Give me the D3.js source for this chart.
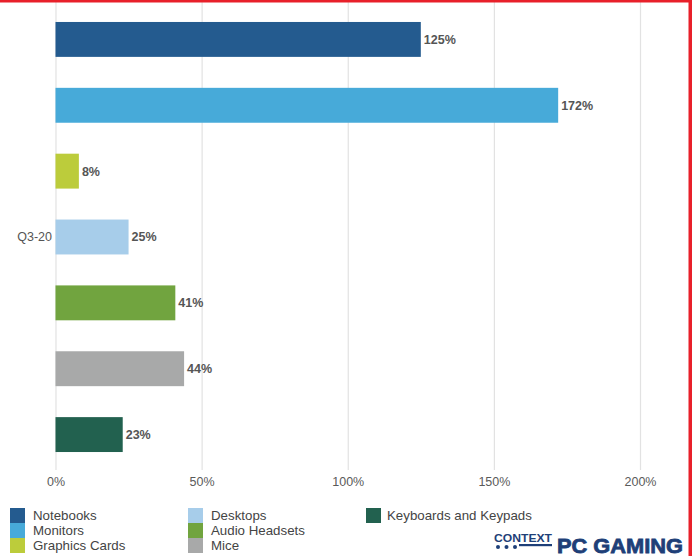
<!DOCTYPE html>
<html>
<head>
<meta charset="utf-8">
<script src="https://cdn.jsdelivr.net/npm/d3@7"></script>
<style>
  body { margin: 0; background: #fff; }
  svg { display: block; font-family: "Liberation Sans", Arial, sans-serif; }
</style>
</head>
<body>
<div id="chart"></div>
<script>
// data
var categories = [ "Notebooks", "Monitors", "Graphics Cards", "Desktops", "Audio Headsets", "Mice", "Keyboards and Keypads" ];
var growth = [ 125, 172, 8, 25, 41, 44, 23 ];
var colors = [ "#245b8f", "#47aad9", "#bccc3b", "#a7cdea", "#71a43f", "#a8a9a9", "#22614f" ];
var xTicks = [ 0, 50, 100, 150, 200 ];
var periodLabel = "Q3-20";
// legend is laid out in three columns
var legendColumns = [
	[ "Notebooks", "Monitors", "Graphics Cards" ],
	[ "Desktops", "Audio Headsets", "Mice" ],
	[ "Keyboards and Keypads" ]
];

var width = 692, height = 556;

var svg = d3.select( "#chart" ).append( "svg" )
	.attr( "width", width )
	.attr( "height", height );

var xScale = d3.scaleLinear()
	.domain( [ 0, 200 ] )
	.range( [ 55.5, 640 ] );

var yScale = d3.scaleBand()
	.domain( categories )
	.range( [ 6.5, 467.5 ] )
	.paddingInner( 0.47 )
	.paddingOuter( 0.235 );

// vertical grid
svg.append( "g" )
	.attr( "transform", "translate(0, 470)" )
	.call( d3.axisBottom( xScale )
		.tickValues( xTicks )
		.tickSize( -468 )
		.tickFormat( "" ) )
	.call( g => g.select( ".domain" ).remove() )
	.call( g => g.selectAll( "line" ).attr( "stroke", "#e2e2e2" ).attr( "stroke-width", 1.2 ) );

// x axis labels
svg.append( "g" )
	.attr( "transform", "translate(0, 474)" )
	.call( d3.axisBottom( xScale )
		.tickValues( xTicks )
		.tickSize( 0 )
		.tickFormat( d => d + "%" ) )
	.call( g => g.select( ".domain" ).remove() )
	.call( g => g.selectAll( "text" )
		.attr( "font-size", "12.5px" )
		.attr( "font-family", "Liberation Sans, Arial, sans-serif" )
		.attr( "fill", "#5a5a5a" ) );

// bars
svg.selectAll( ".bar" )
	.data( categories )
	.enter()
	.append( "rect" )
	.attr( "class", "bar" )
	.attr( "x", xScale( 0 ) )
	.attr( "y", d => yScale( d ) )
	.attr( "width", ( d, i ) => xScale( growth[ i ] ) - xScale( 0 ) )
	.attr( "height", yScale.bandwidth() )
	.attr( "fill", ( d, i ) => colors[ i ] );

// value labels
svg.selectAll( ".val" )
	.data( categories )
	.enter()
	.append( "text" )
	.attr( "class", "val" )
	.attr( "x", ( d, i ) => xScale( growth[ i ] ) + 3 )
	.attr( "y", d => yScale( d ) + yScale.bandwidth() / 2 )
	.attr( "dy", "0.35em" )
	.attr( "font-size", "12.5px" )
	.attr( "font-weight", "bold" )
	.attr( "fill", "#555" )
	.text( ( d, i ) => growth[ i ] + "%" );

// period label on the left
svg.append( "text" )
	.attr( "x", 52 )
	.attr( "y", yScale( "Desktops" ) + yScale.bandwidth() / 2 )
	.attr( "dy", "0.35em" )
	.attr( "text-anchor", "end" )
	.attr( "font-size", "12.5px" )
	.attr( "fill", "#555" )
	.text( periodLabel );

// legend
var colX = [ 10, 188, 366 ];
legendColumns.forEach( function ( col, c ) {
	col.forEach( function ( name, r ) {
		var i = categories.indexOf( name );
		svg.append( "rect" )
			.attr( "x", colX[ c ] )
			.attr( "y", 508 + r * 15 )
			.attr( "width", 15 )
			.attr( "height", 15 )
			.attr( "fill", colors[ i ] );
		svg.append( "text" )
			.attr( "x", colX[ c ] + ( c === 2 ? 21 : 23 ) )
			.attr( "y", 515.5 + r * 15 )
			.attr( "dy", "0.35em" )
			.attr( "font-size", "13.3px" )
			.attr( "fill", "#444" )
			.text( name );
	} );
} );

// CONTEXT PC GAMING mark
var logo = svg.append( "g" ).attr( "transform", "translate(494, 533)" );
logo.append( "text" )
	.attr( "x", 0 )
	.attr( "y", 9 )
	.attr( "font-size", "10.5px" )
	.attr( "font-weight", "bold" )
	.attr( "fill", "#1e3f78" )
	.attr( "textLength", 58 )
	.attr( "lengthAdjust", "spacingAndGlyphs" )
	.text( "CONTEXT" );
logo.append( "rect" )
	.attr( "x", 25 ).attr( "y", 11 )
	.attr( "width", 33 ).attr( "height", 2.2 )
	.attr( "fill", "#1e3f78" );
[ 4, 12.5, 21 ].forEach( function ( cx ) {
	logo.append( "circle" )
		.attr( "cx", cx ).attr( "cy", 14 ).attr( "r", 2 )
		.attr( "fill", "#1e3f78" );
} );
logo.append( "text" )
	.attr( "x", 63 )
	.attr( "y", 19.5 )
	.attr( "font-size", "21px" )
	.attr( "font-weight", "bold" )
	.attr( "fill", "#1e3f78" )
	.attr( "stroke", "#1e3f78" )
	.attr( "stroke-width", 0.8 )
	.attr( "textLength", 126 )
	.attr( "lengthAdjust", "spacingAndGlyphs" )
	.text( "PC GAMING" );

// red frame on top and right
svg.append( "rect" )
	.attr( "x", 0 ).attr( "y", 0 )
	.attr( "width", width ).attr( "height", 2.5 )
	.attr( "fill", "#e8202a" );
svg.append( "rect" )
	.attr( "x", 688.5 ).attr( "y", 0 )
	.attr( "width", 3.5 ).attr( "height", height )
	.attr( "fill", "#e8202a" );
</script>
</body>
</html>
